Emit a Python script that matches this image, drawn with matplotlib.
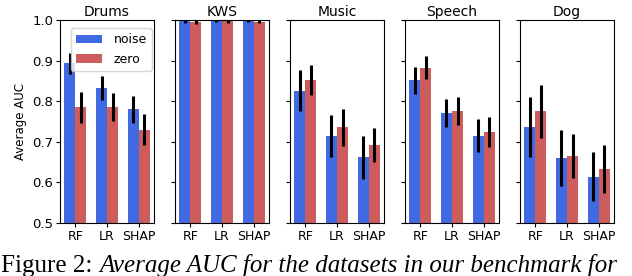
from matplotlib import pyplot as plt
import numpy as np

datasets = ['Drums', 'KWS', 'Music', 'Speech', 'Dog']
methods = ['RF', 'LR', 'SHAP']

noise_mean = {
    'Drums': [0.893, 0.832, 0.780],
    'KWS': [0.997, 0.999, 0.999],
    'Music': [0.826, 0.714, 0.661],
    'Speech': [0.851, 0.770, 0.715],
    'Dog': [0.735, 0.659, 0.614],
}
noise_err = {
    'Drums': [0.026, 0.029, 0.033],
    'KWS': [0.004, 0.003, 0.003],
    'Music': [0.050, 0.051, 0.052],
    'Speech': [0.033, 0.035, 0.040],
    'Dog': [0.074, 0.069, 0.061],
}
zero_mean = {
    'Drums': [0.785, 0.786, 0.729],
    'KWS': [0.995, 0.997, 0.996],
    'Music': [0.852, 0.735, 0.692],
    'Speech': [0.882, 0.775, 0.725],
    'Dog': [0.775, 0.664, 0.632],
}
zero_err = {
    'Drums': [0.038, 0.034, 0.038],
    'KWS': [0.005, 0.004, 0.004],
    'Music': [0.037, 0.045, 0.042],
    'Speech': [0.028, 0.035, 0.037],
    'Dog': [0.065, 0.054, 0.059],
}

fig = plt.figure(figsize=(6.32, 2.76), dpi=100)
gs = fig.add_gridspec(1, 5, left=0.095, right=0.9715, bottom=0.193, top=0.9275, wspace=0.223)

x = np.arange(len(methods))
w = 0.35
axes = []
for i, name in enumerate(datasets):
    ax = fig.add_subplot(gs[0, i], sharey=axes[0] if axes else None)
    axes.append(ax)
    ax.bar(x - w / 2, noise_mean[name], w, yerr=noise_err[name], color='royalblue',
           error_kw=dict(lw=2.2, ecolor='black'), label='noise')
    ax.bar(x + w / 2, zero_mean[name], w, yerr=zero_err[name], color='indianred',
           error_kw=dict(lw=2.2, ecolor='black'), label='zero')
    ax.set_title(name, fontsize=10, pad=3)
    ax.set_xticks(x)
    ax.set_xticklabels(methods, fontsize=9)
    ax.set_ylim(0.5, 1.0)
    ax.tick_params(axis='both', length=3, pad=2)
    if i == 0:
        ax.set_ylabel('Average AUC', fontsize=8.5, labelpad=4)
        ax.set_yticks([0.5, 0.6, 0.7, 0.8, 0.9, 1.0])
        ax.tick_params(axis='y', labelsize=9.5)
        ax.legend(loc='upper left', fontsize=9, handlelength=2.1, borderpad=0.4,
                  labelspacing=0.5, handletextpad=0.9, bbox_to_anchor=(0.05, 0.99))
    else:
        ax.tick_params(axis='y', labelleft=False)

t1 = fig.text(0.002, 0.0145, 'Figure 2:', family='Liberation Serif', fontsize=18, va='baseline')
axes[0].annotate('Average AUC for the datasets in our benchmark for', xy=(1, 0), xycoords=t1,
                 xytext=(5, 0), textcoords='offset points', family='Liberation Serif',
                 style='italic', fontsize=18, va='bottom', annotation_clip=False)

plt.savefig('out.png', dpi=100)
